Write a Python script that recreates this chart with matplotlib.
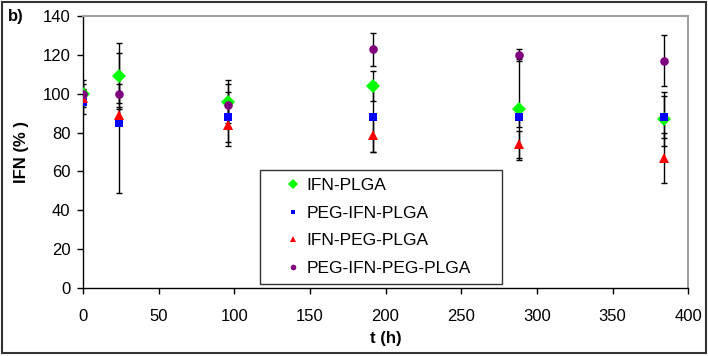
import matplotlib
matplotlib.use("Agg")
import matplotlib.pyplot as plt
from matplotlib.patches import Rectangle

plt.rcParams['font.family'] = ['Liberation Sans', 'DejaVu Sans']

t = [0, 24, 96, 192, 288, 384]
ifn_plga = [100, 109, 96, 104, 92, 87]
ifn_plga_err = [7, 17, 11, 7.5, 26, 14]
peg_ifn_plga = [96, 85, 88, 88, 88, 88]
peg_ifn_plga_err = [6.5, 36, 13, 18, 5, 11]
ifn_peg_plga = [98, 89, 84, 79, 74, 67]
ifn_peg_plga_err = [4, 4, 11, 9, 7, 13]
peg_ifn_peg_plga = [100, 100, 94, 123, 120, 117]
peg_ifn_peg_plga_err = [5, 5, 11, 8.5, 3, 13]

series = [
    ("IFN-PLGA", ifn_plga, ifn_plga_err, "D", "#00ff00", 7.5),
    ("PEG-IFN-PLGA", peg_ifn_plga, peg_ifn_plga_err, "s", "#0000ff", 5.5),
    ("IFN-PEG-PLGA", ifn_peg_plga, ifn_peg_plga_err, "^", "#ff0000", 6.5),
    ("PEG-IFN-PEG-PLGA", peg_ifn_peg_plga, peg_ifn_peg_plga_err, "o", "#800080", 6.2),
]

fig = plt.figure(figsize=(7.08, 3.56), dpi=100)
ax = fig.add_axes([0.117, 0.191, 0.855, 0.764])

for name, y, e, m, c, ms in series:
    ax.errorbar(t, y, yerr=e, fmt='none', ecolor='black', elinewidth=1.0,
                capsize=2.5, capthick=1.0, zorder=2)
handles = []
for name, y, e, m, c, ms in series:
    h, = ax.plot(t, y, linestyle='none', marker=m, color=c, markersize=ms,
                 markeredgewidth=0, label=name, zorder=3)
    handles.append(h)

ax.set_xlim(0, 400)
ax.set_ylim(0, 140)
ax.set_xticks(range(0, 401, 50))
ax.set_yticks(range(0, 141, 20))
ax.tick_params(direction='out', length=4, width=1, labelsize=12,
               colors='black')
ax.tick_params(axis='x', pad=11)
ax.tick_params(axis='y', pad=5)
for s in ['left', 'bottom']:
    ax.spines[s].set_color('black')
    ax.spines[s].set_linewidth(1.0)
for s in ['top', 'right']:
    ax.spines[s].set_color('#a0a0a0')
    ax.spines[s].set_linewidth(1.5)

ax.set_xlabel('t (h)', fontsize=12, fontweight='bold', labelpad=5)
ax.set_ylabel('IFN (% )', fontsize=12, fontweight='bold', labelpad=10)

leg = ax.legend(handles=handles, loc='lower left',
                bbox_to_anchor=(0.292, 0.015, 0.4, 0.415), mode='expand',
                fontsize=12.5, frameon=True, fancybox=False, handlelength=3.0,
                handletextpad=-0.75, borderpad=0.45, labelspacing=0.72,
                markerscale=0.65, borderaxespad=0)
leg.get_frame().set_edgecolor('black')
leg.get_frame().set_linewidth(1.0)

fig.text(0.011, 0.955, 'b)', fontsize=12, fontweight='bold', ha='left', va='center')

fig.patches.append(Rectangle((0.003, 0.008), 0.994, 0.985, transform=fig.transFigure,
                             fill=False, edgecolor='#333333', linewidth=1.5))

fig.savefig('out.png', dpi=100)
